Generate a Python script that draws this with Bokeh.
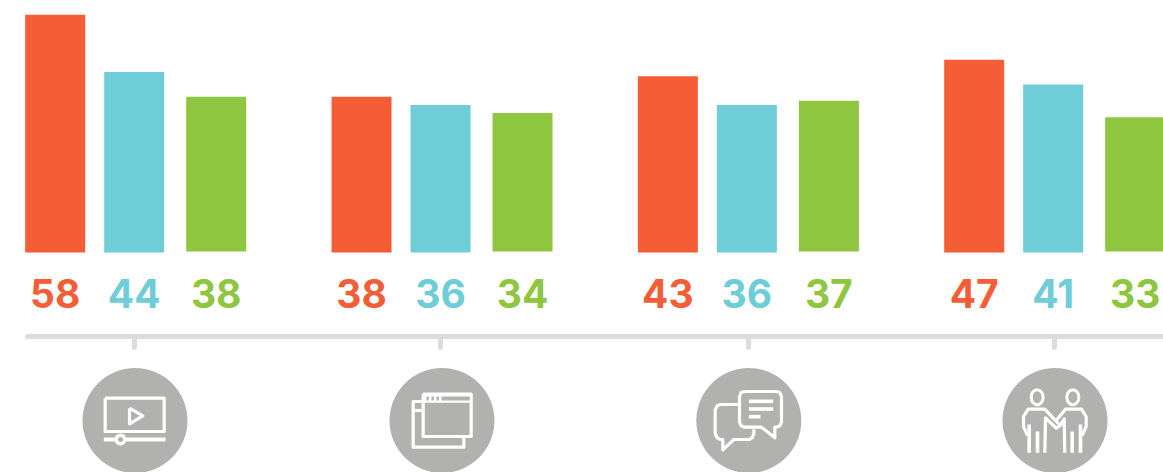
from bokeh.plotting import figure
from bokeh.embed import file_html
from bokeh.resources import INLINE
from bokeh.core.properties import value
from bokeh.models import Range1d

# ---- data
categories = ["Video", "Windows", "Chat", "People"]
orange_values = [58, 38, 43, 47]
teal_values = [44, 36, 36, 41]
green_values = [38, 34, 37, 33]
series_colors = ["#f55d37", "#6ecdd6", "#8ec63f"]

# ---- layout constants
W, H = 1163, 472
PX_PER_GROUP, PX_PER_UNIT = 306.33, 4.1
X0_PX, Y0_PX = 133.7, 252
AXIS_C = "#dcdcdc"
ICON_BG = "#b1b2af"
WHITE = "#ffffff"


def X(px):
    return (px - X0_PX) / PX_PER_GROUP


def Y(py):
    return (Y0_PX - py) / PX_PER_UNIT


p = figure(width=W, height=H, output_backend="svg", toolbar_location=None,
           x_range=Range1d(X(0), X(W)), y_range=Range1d(Y(H), Y(0)),
           min_border=0, outline_line_color=None, background_fill_color=WHITE,
           border_fill_color=WHITE)
p.axis.visible = False
p.grid.visible = False

idx = list(range(len(categories)))
offsets = [-79 / PX_PER_GROUP, 0, 82 / PX_PER_GROUP]
bottoms = [0, 0, 0.22]
series = [orange_values, teal_values, green_values]
for vals, off, col, bot in zip(series, offsets, series_colors, bottoms):
    xs = [i + off for i in idx]
    p.vbar(x=xs, width=60 / PX_PER_GROUP, bottom=bot, top=vals, color=col, line_color=None)
    p.text(x=xs, y=[Y(293)] * 4, text=[str(v) for v in vals], text_color=col,
           text_font=value("Inter"), text_font_style="bold", text_font_size="39px",
           text_align="center", text_baseline="middle")

# axis with ticks
p.line([X(27), X(1200)], [Y(336)] * 2, line_color=AXIS_C, line_width=5, line_cap="round")
tick_x = [X(134), X(440), X(748), X(1054)]
p.segment(tick_x, [Y(338)] * 4, tick_x, [Y(347)] * 4, line_color=AXIS_C, line_width=5, line_cap="round")

# icon discs
p.scatter([X(134.5), X(441.5), X(748.3), X(1054.5)], [Y(420)] * 4, size=105,
          marker="circle", color=ICON_BG, line_color=None)


def path(org, pts, lw=3.2, color=WHITE, closed=False):
    pts = list(pts) + ([pts[0]] if closed else [])
    p.line([X(org[0] + a / 3) for a, b in pts], [Y(org[1] + b / 3) for a, b in pts],
           line_color=color, line_width=lw, line_join="round", line_cap="butt")


def box(org, x0, y0, x1, y1, color=WHITE):
    p.quad(left=X(org[0] + x0 / 3), right=X(org[0] + x1 / 3),
           bottom=Y(org[1] + y1 / 3), top=Y(org[1] + y0 / 3), color=color, line_color=None)


# video icon
o = (60, 320)
path(o, [(134, 233), (311, 233), (311, 333), (134, 333)], closed=True)
path(o, [(207, 263), (207, 310), (247, 286)], closed=True)
box(o, 130, 351, 315, 363)
p.scatter([X(120)], [Y(439)], size=12, marker="circle", color=WHITE, line_color=None)
p.scatter([X(120)], [Y(439)], size=5, marker="circle", color=ICON_BG, line_color=None)

# windows icon
o = (370, 320)
path(o, [(155, 243), (128, 243), (128, 380), (280, 380), (280, 350)])
path(o, [(128, 270), (155, 270)])
path(o, [(158, 221), (302, 221), (302, 348), (158, 348)], closed=True)
box(o, 156, 219, 304, 247)
for a, b in [(168, 175), (183, 190), (198, 205), (213, 298)]:
    box(o, a, 228, b, 240, ICON_BG)

# chat icon
o = (680, 320)
path(o, [(192, 213), (288, 213), (298, 216), (303, 228), (303, 305), (298, 316), (288, 320),
         (283, 320), (283, 352), (243, 320), (192, 320), (182, 316), (177, 305), (177, 228),
         (182, 216)], closed=True)
path(o, [(175, 252), (120, 252), (110, 256), (104, 268), (104, 340), (110, 352), (120, 357),
         (127, 357), (127, 388), (160, 357), (205, 357), (215, 352), (220, 340), (220, 326)])
box(o, 205, 237, 278, 248)
box(o, 205, 260, 278, 271)
box(o, 205, 283, 240, 294)

# people icon
o = (985, 320)
for cx in (155, 262):
    p.ellipse([X(o[0] + cx / 3)], [Y(o[1] + 230 / 3)], width=12, height=15,
              width_units="screen", height_units="screen", fill_color=None,
              line_color=WHITE, line_width=3)
left_body = [(126, 345), (114, 318), (114, 288), (128, 266), (178, 266), (224, 315), (212, 323),
             (180, 292), (178, 397)]
path(o, left_body)
path(o, [(156, 333), (156, 397)], lw=3.6)
path(o, [(131, 312), (131, 397)], lw=3.6)
right_body = [(290, 345), (302, 318), (302, 288), (288, 266), (240, 266), (214, 298)]
path(o, right_body)
path(o, [(224, 315), (236, 295), (238, 397)])
path(o, [(260, 333), (260, 397)], lw=3.6)
path(o, [(285, 312), (285, 397)], lw=3.6)

open("out.html", "w").write(file_html(p, INLINE))
